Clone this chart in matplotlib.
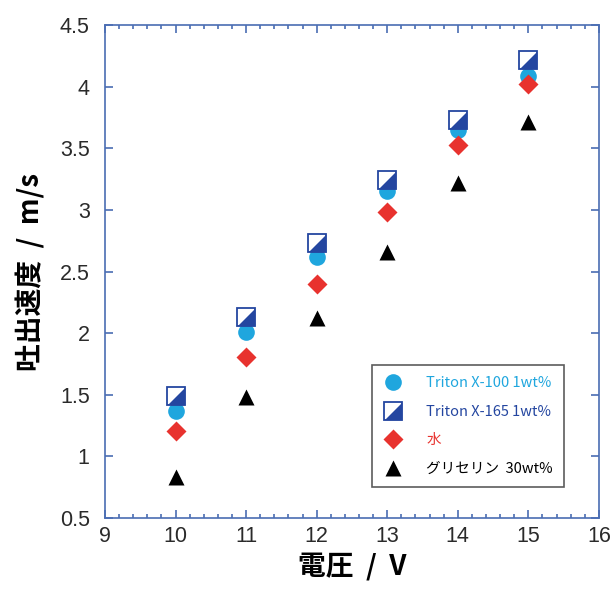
import matplotlib
matplotlib.use("Agg")
import matplotlib.pyplot as plt
from matplotlib.ticker import MultipleLocator
from matplotlib.legend_handler import HandlerTuple

plt.rcParams['font.family'] = ['Liberation Sans', 'Noto Sans CJK JP', 'DejaVu Sans']

# 電圧 (V)
voltage = [10, 11, 12, 13, 14, 15]

# 吐出速度 (m/s)
triton_x100 = [1.37, 2.01, 2.62, 3.15, 3.65, 4.09]
triton_x165 = [1.49, 2.13, 2.73, 3.24, 3.73, 4.22]
water = [1.21, 1.81, 2.40, 2.98, 3.53, 4.02]
glycerin = [0.83, 1.48, 2.12, 2.66, 3.22, 3.71]

labels = ['Triton X-100 1wt%', 'Triton X-165 1wt%', '水', 'グリセリン  30wt%']
yticks = [0.5, 1, 1.5, 2, 2.5, 3, 3.5, 4, 4.5]
ytick_labels = ['0.5', '1', '1.5', '2', '2.5', '3', '3.5', '4', '4.5']

c_cyan = '#1fa6de'
c_blue = '#2446a0'
c_red = '#e8322e'
c_black = '#000000'
c_frame = '#4a6db3'

fig = plt.figure(figsize=(6.13, 5.90), dpi=100)
ax = fig.add_axes([0.1713, 0.122, 0.8057, 0.8355])

h1, = ax.plot(voltage, triton_x100, 'o', ms=12, color=c_cyan, mec='none', zorder=3)
# half-filled square: white square outline + filled lower-right triangle
h2a, = ax.plot(voltage, triton_x165, 's', ms=12.5, mfc='white', mec=c_blue,
               mew=1.3, zorder=4)
tri = [(-1, -1), (1, -1), (1, 1), (-1, -1)]
h2b, = ax.plot(voltage, triton_x165, ls='none', marker=tri, ms=12.5,
               color=c_blue, mec='none', zorder=4)
h3, = ax.plot(voltage, water, 'D', ms=10, color=c_red, mec='none', zorder=5)
h4, = ax.plot(voltage, glycerin, '^', ms=12, color=c_black, mec='none', zorder=5)

ax.set_xlim(9, 16)
ax.set_ylim(0.5, 4.5)
ax.xaxis.set_major_locator(MultipleLocator(1))
ax.xaxis.set_minor_locator(MultipleLocator(0.2))
ax.set_yticks(yticks)
ax.set_yticklabels(ytick_labels)

ax.tick_params(which='both', direction='in', top=True, right=True,
               color=c_frame, width=1.2, labelsize=15.5, labelcolor='#2a2a2a')
ax.tick_params(which='major', length=6)
ax.tick_params(axis='x', which='major', pad=6)
ax.tick_params(axis='y', which='major', pad=11)
ax.tick_params(which='minor', length=3)
ax.tick_params(axis='y', which='minor', left=False, right=False)
for s in ax.spines.values():
    s.set_color(c_frame)
    s.set_linewidth(1.2)

ax.set_xlabel('電圧  /  V', fontsize=20, fontweight='bold',
              family=['Noto Sans CJK JP'], labelpad=4)
ax.set_ylabel('吐出速度  /  m/s', fontsize=20, fontweight='bold',
              family=['Noto Sans CJK JP'], labelpad=10)

leg = ax.legend([h1, (h2a, h2b), h3, h4], labels,
                handler_map={tuple: HandlerTuple(ndivide=1, pad=0)},
                loc='upper left', bbox_to_anchor=(0.54, 0.31),
                prop={'family': ['Noto Sans CJK JP'], 'size': 10.5},
                frameon=True, fancybox=False, edgecolor='#333333',
                borderpad=0.75, labelspacing=1.0, handlelength=1.4,
                handletextpad=1.6, borderaxespad=0)
leg.get_frame().set_linewidth(1.2)
for txt, col in zip(leg.get_texts(), [c_cyan, c_blue, c_red, c_black]):
    txt.set_color(col)

fig.savefig('out.png', dpi=100)
